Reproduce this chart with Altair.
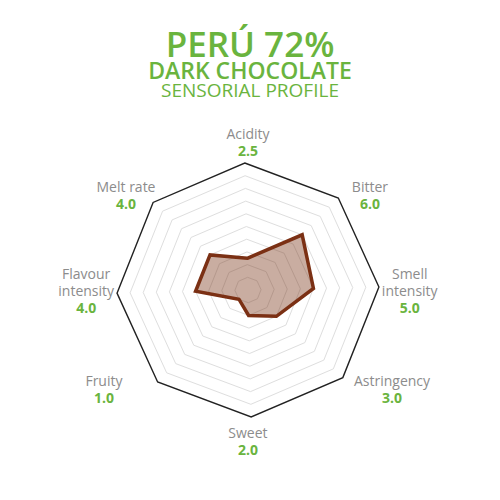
import altair as alt
import pandas as pd

# sensory attributes, clockwise from the top
attributes = ["Acidity", "Bitter", "Smell\nintensity", "Astringency",
              "Sweet", "Fruity", "Flavour\nintensity", "Melt rate"]
scores = [2.5, 6.0, 5.0, 3.0, 2.0, 1.0, 4.0, 4.0]
grid_levels = list(range(1, 11))
title_lines = ["PERÚ 72%", "DARK CHOCOLATE", "SENSORIAL PROFILE"]

GREEN = "#6ab43e"
GREY = "#8c8c8c"
FONT = "Open Sans"

profile = pd.DataFrame({
    "i": range(len(attributes)),
    "attribute": attributes,
    "score": scores,
    "score_label": [f"{s:.1f}" for s in scores],
})
grid = pd.DataFrame(
    [{"i": i, "level": lv} for lv in grid_levels for i in range(len(attributes))]
)

theta = "(datum.i * 45 - 1.4) * PI / 180"
x_scale = alt.Scale(domain=[-18.32, 18.63])
y_scale = alt.Scale(domain=[-15.9, 22.2])


def xy(chart, r):
    return chart.transform_calculate(
        theta=theta
    ).transform_calculate(
        px=f"{r} * sin(datum.theta)",
        py=f"{r} * cos(datum.theta)",
    )


def enc(y="py:Q", **kw):
    return dict(
        x=alt.X("px:Q", scale=x_scale, axis=None),
        y=alt.Y(y, scale=y_scale, axis=None),
        **kw,
    )


inner_grid = xy(alt.Chart(grid), "datum.level").transform_filter(
    "datum.level < 10"
).mark_line(interpolate="linear-closed", color="#dedede", strokeWidth=1).encode(
    **enc(detail="level:N", order="i:Q")
)

outer_grid = xy(alt.Chart(grid), "datum.level").transform_filter(
    "datum.level == 10"
).mark_line(interpolate="linear-closed", color="#222222", strokeWidth=1.4).encode(
    **enc(detail="level:N", order="i:Q")
)

shape = xy(alt.Chart(profile), "datum.score").mark_line(
    interpolate="linear-closed", fill="#783214", fillOpacity=0.4,
    stroke="#7b3014", strokeWidth=3.5, strokeJoin="miter"
).encode(**enc(order="i:Q"))

# label anchors: boundary between the attribute name and its score
labels_base = alt.Chart(profile).transform_calculate(
    s="sin(datum.i * 45 * PI / 180)",
    c="cos(datum.i * 45 * PI / 180)",
).transform_calculate(
    sx="datum.s > 0.2 ? 1 : (datum.s < -0.2 ? -1 : 0)",
    sy="datum.c > 0.2 ? 1 : (datum.c < -0.2 ? -1 : 0)",
    nlines="length(split(datum.attribute, '\\n'))",
).transform_calculate(
    px="7.5 * datum.s + 4.85 * datum.sx - 1.19 * datum.sx * datum.c",
    py="14 * datum.c - 2 * datum.sy + (datum.sy > 0 ? -0.5 : (datum.sy < 0 ? 0 : -0.8))",
).transform_calculate(
    ny="datum.py + (datum.nlines - 1) * 17 / 12.7",
)

names = labels_base.mark_text(
    font=FONT, fontSize=14, color=GREY, baseline="bottom", lineBreak="\n",
    lineHeight=17, dy=-1.5
).encode(**enc(y="ny:Q", text="attribute:N"))

values = labels_base.mark_text(
    font=FONT, fontSize=14, fontWeight="bold", color=GREEN, baseline="top", dy=1.5
).encode(**enc(text="score_label:N"))

titles = alt.Chart(pd.DataFrame({"t": title_lines}))
t1 = titles.transform_filter(f"datum.t == '{title_lines[0]}'").mark_text(
    font=FONT, fontSize=35, fontWeight=600, color=GREEN, baseline="alphabetic"
).encode(text="t:N", x=alt.value(242), y=alt.value(49))
t2 = titles.transform_filter(f"datum.t == '{title_lines[1]}'").mark_text(
    font=FONT, fontSize=23, fontWeight=600, color=GREEN, baseline="alphabetic"
).encode(text="t:N", x=alt.value(242), y=alt.value(71.3))
t3 = titles.transform_filter(f"datum.t == '{title_lines[2]}'").mark_text(
    font=FONT, fontSize=19, color=GREEN, baseline="alphabetic"
).encode(text="t:N", x=alt.value(242), y=alt.value(88.7))

chart = alt.layer(
    inner_grid, outer_grid, shape, names, values, t1, t2, t3
).properties(
    width=484, height=484, padding=0, autosize="none", background="white"
).configure_view(strokeWidth=0)

chart.save("out.html", embed_options={"renderer": "svg", "actions": False})
